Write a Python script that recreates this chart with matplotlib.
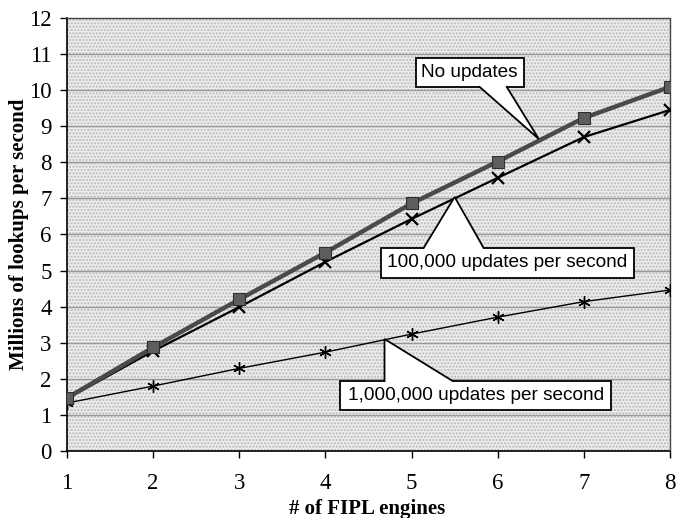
import numpy as np
import matplotlib.pyplot as plt
from matplotlib.patches import Rectangle, Polygon

# dados
engines = [1, 2, 3, 4, 5, 6, 7, 8]
no_updates = [1.47, 2.87, 4.20, 5.50, 6.86, 8.02, 9.23, 10.09]
upd_100k = [1.45, 2.77, 3.99, 5.24, 6.43, 7.57, 8.70, 9.45]
upd_1m = [1.33, 1.80, 2.29, 2.74, 3.24, 3.71, 4.14, 4.46]
y_ticks = list(range(0, 13))

fig = plt.figure(figsize=(6.76, 5.18), dpi=100)
ax = fig.add_axes([0.0991, 0.1293, 0.8920, 0.8360])

# fundo pontilhado
ax.set_facecolor('white')
ax.add_patch(Rectangle((0, 0), 1, 1, transform=ax.transAxes, facecolor='#ececec',
                       hatch='.....', edgecolor='#b8b8b8', linewidth=0, zorder=0))

for v in y_ticks[1:-1]:
    ax.axhline(v, color='#9a9a9a', linewidth=1.0, zorder=1)

ax.plot(engines, upd_1m, color='black', linewidth=1.0, marker=(6, 2, 0),
        markersize=9, markeredgewidth=1.0, zorder=3)
ax.plot(engines, upd_100k, color='black', linewidth=1.6, marker='x',
        markersize=9, markeredgewidth=1.6, zorder=4)
ax.plot(engines, no_updates, color='#4a4a4a', linewidth=3.2, marker='s',
        markersize=8, markerfacecolor='#5e5e5e', markeredgecolor='#2e2e2e',
        markeredgewidth=0.8, zorder=5)

ax.set_xlim(1, 8)
ax.set_ylim(0, 12)
ax.set_xticks(engines)
ax.set_yticks(y_ticks)

serif = ['Liberation Serif', 'DejaVu Serif']
for lab in ax.get_xticklabels() + ax.get_yticklabels():
    lab.set_fontfamily(serif)
    lab.set_fontsize(16.5)
ax.tick_params(axis='y', direction='out', length=5, width=1, pad=6)
ax.tick_params(axis='x', direction='out', length=5, width=1, pad=11)

ax.spines['left'].set_color('black')
ax.spines['left'].set_linewidth(1.2)
ax.spines['bottom'].set_linestyle((0, (1.5, 1)))
ax.spines['bottom'].set_linewidth(1.2)
for s in ['top', 'right']:
    ax.spines[s].set_linestyle((0, (1, 1)))
    ax.spines[s].set_linewidth(1.0)
    ax.spines[s].set_color('#444444')

ax.set_xlabel('# of FIPL engines', fontfamily=serif, fontsize=15, fontweight='bold')
ax.set_ylabel('Millions of lookups per second', fontfamily=serif, fontsize=15,
              fontweight='bold')
ax.xaxis.set_label_coords(0.498, -0.110)
ax.yaxis.set_label_coords(-0.063, 0.5)

# caixas de texto com ponteiro: (texto, caixa x0, x1, y0, y1, base x1, base x2, ponta)
callouts = [
    ('No updates', 5.047, 6.302, 10.089, 10.892, 5.791, 6.105, (6.477, 8.647)),
    ('100,000 updates per second', 4.640, 7.581, 4.795, 5.626, 5.140, 5.837, (5.50, 7.04)),
    ('1,000,000 updates per second', 4.174, 7.314, 1.136, 1.940, 4.686, 5.477, (4.686, 3.104)),
]
sans = ['Liberation Sans', 'DejaVu Sans']
for texto, x0, x1, y0, y1, bx1, bx2, tip in callouts:
    ax.add_patch(Rectangle((x0, y0), x1 - x0, y1 - y0, facecolor='white',
                           edgecolor='black', linewidth=1.3, zorder=6))
    # lado da caixa de onde sai o ponteiro
    by = y1 if tip[1] > y1 else y0
    dentro = -0.06 if tip[1] > y1 else 0.06
    ax.add_patch(Polygon([(bx1, by + dentro), (bx1, by), tip, (bx2, by), (bx2, by + dentro)],
                         closed=True, facecolor='white', edgecolor='none', zorder=7))
    ax.plot([bx1, tip[0], bx2], [by, tip[1], by], color='black', linewidth=1.3,
            solid_joinstyle='miter', zorder=7)
    ax.text((x0 + x1) / 2, (y0 + y1) / 2, texto, fontsize=13.7, fontfamily=sans,
            ha='center', va='center', zorder=8)

fig.savefig('out.png', dpi=100)
